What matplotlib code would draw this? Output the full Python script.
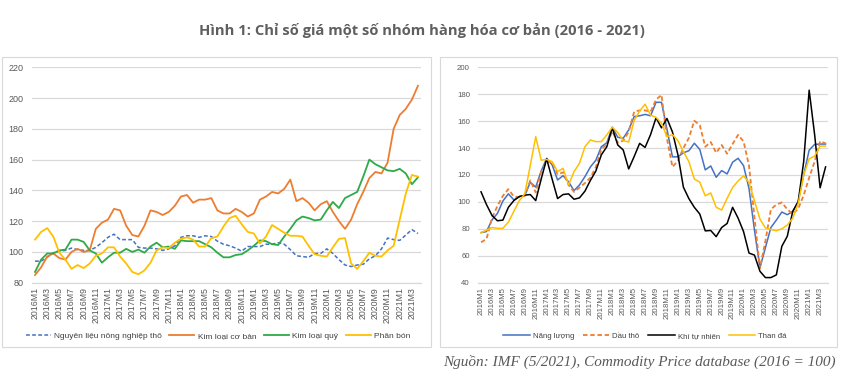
import numpy as np
import matplotlib.pyplot as plt
from matplotlib.patches import Rectangle

# category labels: 2016M1 .. 2021M4
months = ["%dM%d" % (y, m) for y in range(2016, 2022) for m in range(1, 13)][:64]

# left panel
nong_nghiep = [94, 94, 96.5, 99.5, 100.5, 101, 102.5, 101.5, 101, 101, 103, 106, 109.5, 111.5, 108, 108,
               108, 103, 102.5, 102.5, 102, 101, 102, 104, 109.5, 110.5, 110.5, 109.5, 110.5, 110, 107, 105,
               104, 102.5, 100.5, 103.5, 103.5, 103.5, 105, 105, 106, 105, 101.5, 97.5, 97, 96.5, 99, 99,
               102, 99, 95, 91.5, 90.5, 91.5, 92, 95.5, 97.5, 102, 109, 108, 107.5, 111, 114.5, 112]
kl_co_ban = [85, 90, 97, 99, 96, 95, 100, 102, 100, 101, 115, 119, 121, 128, 127, 117,
             111, 110, 117, 127, 126, 124, 126, 130, 136, 137, 132, 134, 134, 135, 127, 125,
             125, 128, 126, 123, 125, 134, 136, 139, 138, 141, 147, 133, 135, 132, 127, 131,
             133, 126, 120, 115, 121, 131, 139, 148, 152, 151, 158, 180, 189, 193, 199, 208]
kl_quy = [87, 95, 99, 99, 101, 101.5, 108, 108, 106.5, 101, 99, 93, 96.5, 99.5, 99.5, 102,
          100, 101.5, 99.5, 103.5, 106, 103, 103.5, 102, 107.5, 107, 107, 107, 105, 103, 99.5, 96.5,
          96.5, 98, 98.5, 101, 104, 107.5, 107, 105, 104.5, 110, 115, 120.5, 123, 122, 120.5, 121,
          127, 132.5, 128.5, 135, 137, 139, 149, 160, 157, 155, 153, 152.5, 154, 151, 144, 148.5]
phan_bon = [108, 113, 115.5, 110, 99.5, 95, 89, 91.5, 89.5, 92.5, 97.5, 99, 103, 103, 97, 92.5,
            87, 85.5, 88, 93, 101, 103, 102.5, 106, 108.5, 109.5, 108, 103.5, 103.5, 109, 110, 116.5,
            122, 123.5, 118, 113, 112, 105.5, 110, 117.5, 115, 112.5, 110.5, 110.5, 110, 104, 98.5, 97.5,
            97, 103, 108.5, 109, 92.5, 89, 94, 99.5, 97.5, 97, 101, 104, 121, 138, 150, 149]

# right panel
nang_luong = [77.2, 78, 86.6, 91.5, 100.7, 106, 101.5, 104, 104.7, 114.6, 111, 123, 132.4, 127.5, 116.3, 119.5,
              115, 108.4, 112.6, 118.8, 126, 131, 141, 144, 155.5, 148, 147.3, 153.5, 163.4, 164, 165, 164,
              174, 174, 154, 133.5, 133.5, 136.5, 138, 143.6, 139, 123.8, 126.7, 118.3, 123.3, 120.8, 129.5, 132.4,
              127, 110, 79, 51, 66, 81, 86.5, 92.5, 90.5, 93, 100.5, 120, 138.5, 142.7, 143, 143]
dau_tho = [70, 72.5, 88, 97, 104.5, 109.5, 104, 103.5, 104.5, 116, 107, 122.5, 130, 129.5, 120.5, 122,
           112.6, 107.5, 110.6, 114, 118, 126, 139, 143, 152.5, 144, 145.5, 152, 167, 168, 168, 167,
           176, 179.5, 147, 126, 130.5, 140, 147.5, 160.3, 157, 141, 144.5, 136.5, 142.3, 135.8, 143, 149.8,
           145, 127, 88.5, 50.7, 71, 94.5, 98, 99.6, 94.5, 91, 95, 105, 118, 130, 145, 143.5]
khi_tu_nhien = [107.5, 98, 90, 86, 86.5, 96, 101, 104, 105, 105.5, 101, 117, 132, 117, 102.5, 105.5,
                106, 102, 103, 108, 116, 123, 135, 141, 155, 142.3, 138.6, 124.5, 133.7, 143.5, 140.5, 150,
                162.5, 155, 162, 152, 135, 111, 102.5, 96, 91, 78.5, 78.8, 74.2, 81, 84, 96, 88,
                78, 62, 60.5, 48.5, 43.8, 43.8, 45.8, 67, 74.5, 93, 100.2, 130, 183, 150, 110.5, 126]
than_da = [77.2, 79, 81, 80.4, 80.4, 85, 93, 101, 106, 127, 148.5, 131, 131.5, 130, 122.5, 125,
           112.6, 122.5, 128.7, 141, 146, 144.8, 144.8, 149.8, 155.5, 151.5, 145.5, 144.5, 160.5, 167.5, 172.6, 164.5,
           162.8, 158.5, 148.5, 150, 145.5, 137.4, 130, 117, 114.7, 104.5, 106.7, 96, 94, 102.7, 110.7, 115.5,
           119.4, 114.5, 100.8, 87.3, 80.7, 79.5, 78.6, 80, 82.8, 88, 99, 120, 132, 134, 141.5, 141.5]

BLUE = "#4472C4"
ORANGE = "#ED7D31"
GREEN = "#2EAA48"
YELLOW = "#FFC000"
GRID = "#D9D9D9"
TXT = "#595959"

plt.rcParams['font.family'] = ['Liberation Sans', 'DejaVu Sans']

fig = plt.figure(figsize=(8.43, 3.82), dpi=100, facecolor="white")

# panel frames
fig.patches.append(Rectangle((2 / 843, 1 - 347 / 382), 429 / 843, 290 / 382,
                             transform=fig.transFigure, fill=False, ec=GRID, lw=0.8))
fig.patches.append(Rectangle((440 / 843, 1 - 347 / 382), 397 / 843, 290 / 382,
                             transform=fig.transFigure, fill=False, ec=GRID, lw=0.8))

x = np.arange(len(months))


def style_axis(ax, ylo, yhi, xfs, yfs):
    ax.set_xlim(-0.5, len(months) - 0.5)
    ax.set_ylim(ylo, yhi)
    ax.set_yticks(np.arange(ylo, yhi + 1, 20))
    ax.grid(axis="y", color=GRID, lw=0.9)
    ax.set_axisbelow(True)
    for s in ["top", "right", "left"]:
        ax.spines[s].set_visible(False)
    ax.spines["bottom"].set_color(GRID)
    ax.spines["bottom"].set_linewidth(0.9)
    ax.set_xticks(x[::2])
    ax.set_xticklabels(months[::2], rotation=90)
    ax.tick_params(axis="x", length=0, labelsize=xfs, colors=TXT, pad=3)
    ax.tick_params(axis="y", length=0, labelsize=yfs, colors=TXT, pad=6)


ax1 = fig.add_axes([32 / 843, 1 - 282.7 / 382, 389 / 843, 215.4 / 382])
ax1.plot(x, nong_nghiep, color=BLUE, lw=1.1, dashes=(2.5, 1.5), label="Nguyên liệu nông nghiệp thô")
ax1.plot(x, kl_co_ban, color=ORANGE, lw=1.3, label="Kim loại cơ bản")
ax1.plot(x, kl_quy, color=GREEN, lw=1.3, label="Kim loại quý")
ax1.plot(x, phan_bon, color=YELLOW, lw=1.3, label="Phân bón")
style_axis(ax1, 80, 220, 6.3, 6.5)
ax1.legend(loc="center", bbox_to_anchor=(218 / 843, 1 - 336 / 382), bbox_transform=fig.transFigure,
           ncol=4, frameon=False, fontsize=6, handlelength=3.0, handletextpad=0.4,
           columnspacing=0.9, labelcolor="#404040")

ax2 = fig.add_axes([478.3 / 843, 1 - 282.7 / 382, 350 / 843, 215.4 / 382])
ax2.plot(x, nang_luong, color=BLUE, lw=1.1, label="Năng lượng")
ax2.plot(x, dau_tho, color=ORANGE, lw=1.3, dashes=(2.5, 1.5), label="Dầu thô")
ax2.plot(x, khi_tu_nhien, color="black", lw=1.1, label="Khí tự nhiên")
ax2.plot(x, than_da, color=YELLOW, lw=1.1, label="Than đá")
style_axis(ax2, 40, 200, 5.6, 5.6)
ax2.legend(loc="center", bbox_to_anchor=(645 / 843, 1 - 336 / 382), bbox_transform=fig.transFigure,
           ncol=4, frameon=False, fontsize=5.6, handlelength=3.4, handletextpad=0.4,
           columnspacing=1.1, labelcolor="#404040")

fig.text(0.5, 1 - 30 / 382, "Hình 1: Chỉ số giá một số nhóm hàng hóa cơ bản (2016 - 2021)",
         ha="center", va="center", fontsize=10.6, fontweight="bold", color="#5F5F5F",
         family=["Open Sans", "DejaVu Sans"])
fig.text(836 / 843, 1 - 362 / 382, "Nguồn: IMF (5/2021), Commodity Price database (2016 = 100)",
         ha="right", va="center", fontsize=11, style="italic", color="#595959",
         family=["Liberation Serif", "DejaVu Serif"])

fig.savefig("out.png", dpi=100, facecolor="white")
